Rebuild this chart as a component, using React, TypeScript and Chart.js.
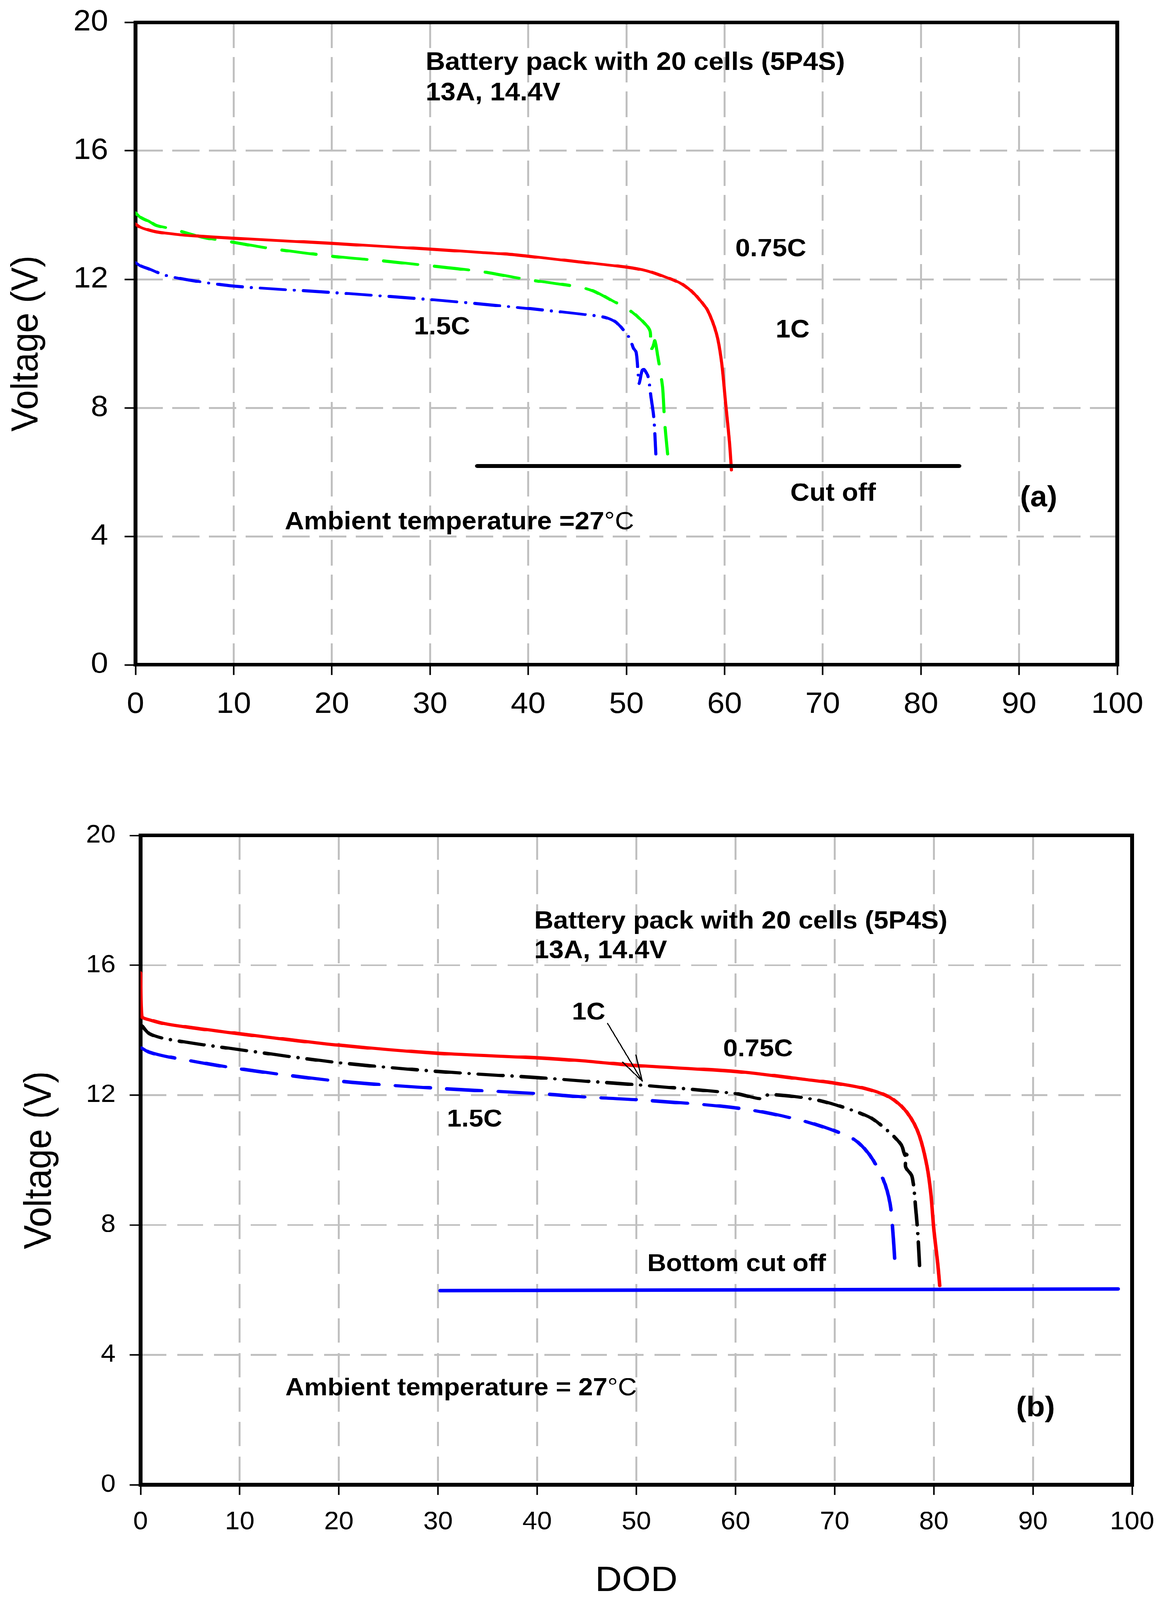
import React, { useEffect, useRef } from "react";
import { Chart, registerables } from "chart.js";

Chart.register(...registerables);

const FONT = "'Liberation Sans', Arial, sans-serif";
const PAGE_W = 2973;
const PAGE_H = 4359;

// ---------------- Panel (a) ----------------
const dodA075 = [0, 0.5, 1.4, 2.1, 3, 5.2, 10, 15, 20, 25, 30, 35, 38, 40, 45, 50, 52, 54, 55.5, 56.6, 57.5, 58.3, 59.2, 59.7, 60.1, 60.5, 60.7];
const voltA075 = [13.72, 13.62, 13.53, 13.48, 13.44, 13.37, 13.28, 13.2, 13.12, 13.03, 12.94, 12.84, 12.78, 12.72, 12.55, 12.38, 12.27, 12.07, 11.88, 11.64, 11.35, 11.02, 10.28, 9.41, 8.17, 6.93, 6.07];

const dodA1 = [0, 0.5, 1.4, 2.1, 3.7, 5.5, 7, 10, 14, 20, 25, 30, 35, 40, 45, 46.6, 48.6, 50.3, 51.6, 52.4, 52.45, 52.7, 52.9, 53.2, 53.5, 53.7, 53.9, 54.2];
const voltA1 = [14.07, 13.93, 13.8, 13.68, 13.57, 13.42, 13.3, 13.15, 12.95, 12.72, 12.58, 12.42, 12.25, 11.99, 11.77, 11.64, 11.33, 11.04, 10.71, 10.4, 9.8, 9.9, 10.09, 9.6, 9.04, 8.6, 7.55, 6.56];

const dodA15 = [0, 0.5, 1.4, 2.9, 5.2, 10, 20, 30, 38, 42.6, 47, 48, 49, 50.3, 50.7, 51, 51.2, 51.3, 51.6, 51.8, 52.2, 52.5, 52.8, 53];
const voltA15 = [12.52, 12.42, 12.32, 12.14, 11.99, 11.79, 11.59, 11.37, 11.15, 11.01, 10.86, 10.8, 10.65, 10.18, 9.87, 9.72, 9.04, 8.76, 9.16, 9.19, 8.98, 8.35, 7.67, 6.56];

const dodCutA = [34.8, 83.9];
const voltCutA = [6.19, 6.19];

// ---------------- Panel (b) ----------------
const dodB075 = [0, 0.12, 0.9, 2.8, 10, 20, 30, 40, 44.9, 50, 60, 67.1, 70, 73, 75.2, 76.7, 77.8, 78.6, 79.3, 79.7, 80.0, 80.4, 80.6];
const voltB075 = [15.76, 14.43, 14.32, 14.18, 13.89, 13.54, 13.29, 13.15, 13.05, 12.91, 12.73, 12.48, 12.37, 12.21, 11.99, 11.67, 11.24, 10.7, 9.83, 8.97, 7.88, 6.8, 6.13];

const dodB1 = [0.1, 0.9, 2.8, 10, 20, 30, 40, 44.9, 50, 60, 62.6, 63.4, 68.5, 73.4, 75.2, 76.7, 77.1, 77.35, 77.15, 77.8, 78.2, 78.4, 78.6];
const voltB1 = [14.15, 13.89, 13.72, 13.4, 13.0, 12.73, 12.54, 12.43, 12.32, 12.05, 11.89, 12.02, 11.83, 11.34, 10.94, 10.48, 10.15, 10.3, 9.8, 9.5, 8.42, 7.67, 6.53];

const dodB15 = [0.1, 0.9, 2.8, 10, 20, 30, 40, 44.9, 50, 60, 66.4, 71.6, 73.4, 74.9, 75.6, 75.9, 76.1];
const voltB15 = [13.45, 13.32, 13.18, 12.81, 12.43, 12.21, 12.05, 11.94, 11.86, 11.61, 11.24, 10.7, 10.21, 9.4, 8.64, 7.67, 6.75];

const dodCutB = [30.2, 98.6];
const voltCutB = [5.98, 6.03];

const arrowDod = [47.1, 50.6, 48.6, 50.6, 49.95];
const arrowVolt = [14.21, 12.43, 13.02, 12.43, 13.24];

// ---------------- Axes ----------------
const dodMin = 0;
const dodMax = 100;
const dodStep = 10;
const voltMin = 0;
const voltMax = 20;
const voltStep = 4;

// ---------------- Text notes (data coordinates, baseline-left) ----------------
type Note = { text: string; x: number; y: number; size: number; suffix?: string };

const notesA: Note[] = [
  { text: "Battery pack with 20 cells (5P4S)", x: 29.55, y: 18.53, size: 69 },
  { text: "13A, 14.4V", x: 29.55, y: 17.58, size: 69 },
  { text: "0.75C", x: 61.1, y: 12.72, size: 68 },
  { text: "1C", x: 65.2, y: 10.2, size: 68 },
  { text: "1.5C", x: 28.36, y: 10.29, size: 68 },
  { text: "Cut off", x: 66.7, y: 5.11, size: 68 },
  { text: "(a)", x: 90.1, y: 4.94, size: 78 },
  { text: "Ambient temperature =27", suffix: "°C", x: 15.2, y: 4.22, size: 68 },
];

const notesB: Note[] = [
  { text: "Battery pack with 20 cells (5P4S)", x: 39.7, y: 17.13, size: 68 },
  { text: "13A, 14.4V", x: 39.7, y: 16.22, size: 68 },
  { text: "1C", x: 43.5, y: 14.32, size: 67 },
  { text: "0.75C", x: 58.75, y: 13.19, size: 67 },
  { text: "1.5C", x: 30.9, y: 11.04, size: 67 },
  { text: "Bottom cut off", x: 51.1, y: 6.58, size: 67 },
  { text: "Ambient temperature = 27", suffix: "°C", x: 14.6, y: 2.76, size: 67 },
  { text: "(b)", x: 88.3, y: 2.1, size: 78 },
];

const zip = (xs: number[], ys: number[]) => xs.map((x, i) => ({ x, y: ys[i] }));

function makeNotesPlugin(notes: Note[]) {
  return {
    id: "notes",
    afterDatasetsDraw(chart: any) {
      const { ctx, scales } = chart;
      ctx.save();
      ctx.fillStyle = "#000";
      ctx.textAlign = "left";
      ctx.textBaseline = "alphabetic";
      for (const n of notes) {
        const px = scales.x.getPixelForValue(n.x);
        const py = scales.y.getPixelForValue(n.y);
        ctx.font = `bold ${n.size}px ${FONT}`;
        ctx.fillText(n.text, px, py);
        if (n.suffix) {
          const w = ctx.measureText(n.text).width;
          ctx.font = `${n.size}px ${FONT}`;
          ctx.fillText(n.suffix, px + w, py);
        }
      }
      ctx.restore();
    },
  };
}

const framePlugin = {
  id: "frame",
  beforeDatasetsDraw(chart: any) {
    const { ctx, chartArea } = chart;
    ctx.save();
    ctx.strokeStyle = "#000";
    ctx.lineWidth = 10;
    ctx.strokeRect(chartArea.left, chartArea.top, chartArea.right - chartArea.left, chartArea.bottom - chartArea.top);
    ctx.restore();
  },
};

function lineDs(data: any[], color: string, width: number, dash: number[], order: number, tension = 0.3) {
  return {
    data,
    borderColor: color,
    backgroundColor: color,
    borderWidth: width,
    borderDash: dash,
    borderCapStyle: "round",
    borderJoinStyle: "round",
    pointRadius: 0,
    pointHoverRadius: 0,
    tension,
    fill: false,
    order,
  };
}

type PanelSpec = {
  top: number;
  height: number;
  padding: { top: number; right: number; bottom: number; left: number };
  yWidth: number;
  xHeight: number;
  tickSize: number;
  xTickPad: number;
  yTickPad: number;
  yTitleSize: number;
  yTitlePad: number;
  gridDash: number[];
  xTitle: boolean;
  datasets: any[];
  notes: Note[];
};

function buildConfig(p: PanelSpec): any {
  return {
    type: "line",
    data: { datasets: p.datasets },
    plugins: [framePlugin, makeNotesPlugin(p.notes)],
    options: {
      animation: false,
      responsive: false,
      devicePixelRatio: 1,
      layout: { padding: p.padding },
      plugins: { legend: { display: false }, tooltip: { enabled: false } },
      scales: {
        x: {
          type: "linear",
          min: dodMin,
          max: dodMax,
          afterFit: (s: any) => {
            s.height = p.xHeight;
            s.paddingLeft = 0;
            s.paddingRight = 0;
          },
          ticks: {
            stepSize: dodStep,
            autoSkip: false,
            maxRotation: 0,
            color: "#000",
            padding: p.xTickPad,
            font: { family: FONT, size: p.tickSize },
          },
          grid: { color: "#c0c0c0", lineWidth: 5, tickLength: 28, tickColor: "#000", tickWidth: 4 },
          border: { display: false, dash: p.gridDash },
          title: {
            display: p.xTitle,
            text: "DOD",
            color: "#000",
            font: { family: FONT, size: 95, lineHeight: 1 },
            padding: { top: 0, bottom: 0 },
          },
        },
        y: {
          type: "linear",
          min: voltMin,
          max: voltMax,
          afterFit: (s: any) => {
            s.width = p.yWidth;
            s.paddingTop = 0;
            s.paddingBottom = 0;
          },
          ticks: {
            stepSize: voltStep,
            color: "#000",
            padding: p.yTickPad,
            font: { family: FONT, size: p.tickSize },
          },
          grid: { color: "#c0c0c0", lineWidth: 5, tickLength: 28, tickColor: "#000", tickWidth: 4 },
          border: { display: false, dash: p.gridDash },
          title: {
            display: true,
            text: "Voltage (V)",
            color: "#000",
            font: { family: FONT, size: p.yTitleSize },
            padding: { top: p.yTitlePad, bottom: 0 },
          },
        },
      },
    },
  };
}

const panelA: PanelSpec = {
  top: 0,
  height: 2000,
  padding: { top: 61, right: 112, bottom: 0, left: 0 },
  yWidth: 347,
  xHeight: 189,
  tickSize: 80,
  xTickPad: 33,
  yTickPad: 42,
  yTitleSize: 97,
  yTitlePad: 11,
  gridDash: [70, 24],
  xTitle: false,
  notes: notesA,
  datasets: [
    lineDs(zip(dodCutA, voltCutA), "#000000", 11, [], 0, 0),
    lineDs(zip(dodA075, voltA075), "#ff0000", 8, [], 1),
    lineDs(zip(dodA1, voltA1), "#00ff00", 8, [88, 43], 2),
    lineDs(zip(dodA15, voltA15), "#0000ff", 8, [64, 23, 0.1, 23], 3),
  ],
};

const panelB: PanelSpec = {
  top: 2150,
  height: 2209,
  padding: { top: 126, right: 74, bottom: 4, left: 0 },
  yWidth: 360,
  xHeight: 310,
  tickSize: 68,
  xTickPad: 33,
  yTickPad: 36,
  yTitleSize: 98,
  yTitlePad: 44,
  gridDash: [66, 28],
  xTitle: true,
  notes: notesB,
  datasets: [
    lineDs(zip(arrowDod, arrowVolt), "#000000", 3, [], 0, 0),
    lineDs(zip(dodB075, voltB075), "#ff0000", 9, [], 1),
    lineDs(zip(dodCutB, voltCutB), "#0000ff", 9, [], 2, 0),
    lineDs(zip(dodB1, voltB1), "#000000", 9, [64, 23, 0.1, 23], 3),
    lineDs(zip(dodB15, voltB15), "#0000ff", 9, [90, 42], 4),
  ],
};

function Panel({ spec }: { spec: PanelSpec }) {
  const ref = useRef<HTMLCanvasElement>(null);
  useEffect(() => {
    const chart = new Chart(ref.current as HTMLCanvasElement, buildConfig(spec));
    return () => chart.destroy();
  }, []);
  return (
    <canvas
      ref={ref}
      width={PAGE_W}
      height={spec.height}
      style={{ position: "absolute", left: 0, top: spec.top, width: PAGE_W, height: spec.height, display: "block" }}
    />
  );
}

export default function App() {
  const vh = typeof window !== "undefined" && window.innerHeight ? window.innerHeight : PAGE_H;
  const ky = Math.min(1, vh / PAGE_H);
  return (
    <div
      style={{
        position: "absolute",
        left: 0,
        top: 0,
        width: PAGE_W,
        height: PAGE_H,
        overflow: "hidden",
        background: "#fff",
        transform: `scale(1, ${ky})`,
        transformOrigin: "0 0",
      }}
    >
      <Panel spec={panelA} />
      <Panel spec={panelB} />
    </div>
  );
}
